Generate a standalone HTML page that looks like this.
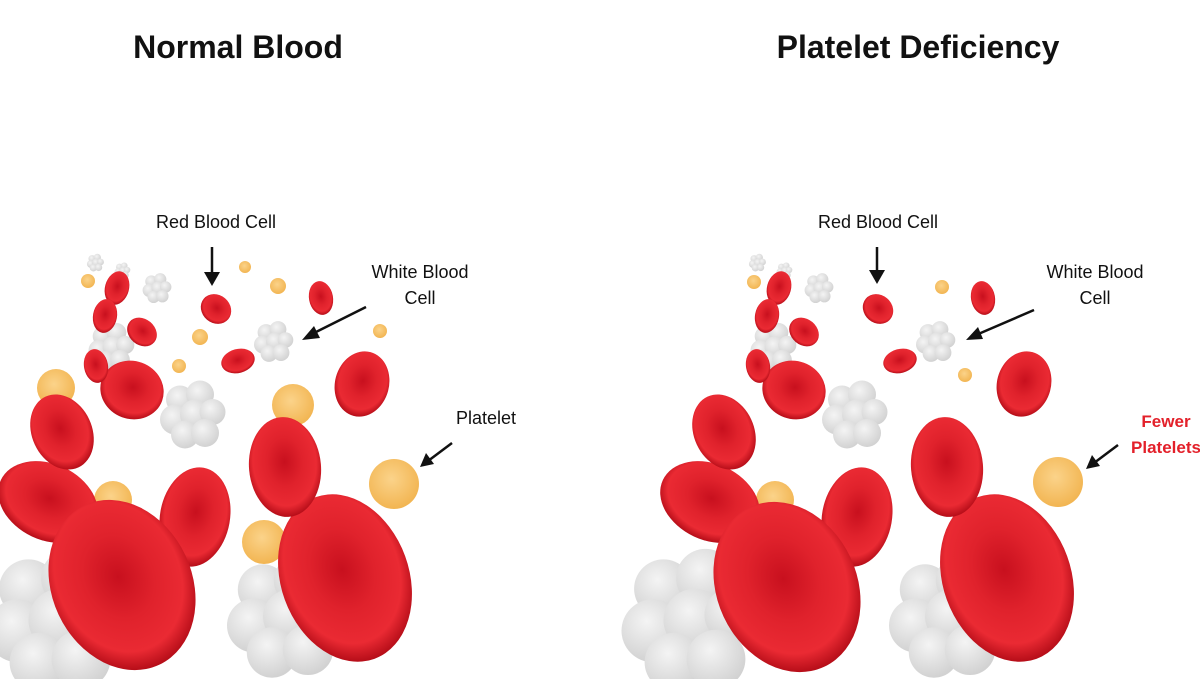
<!DOCTYPE html>
<html><head><meta charset="utf-8"><style>
html,body{margin:0;padding:0;background:#fff;width:1200px;height:679px;overflow:hidden}
svg{display:block}
text{font-family:"Liberation Sans",sans-serif}
</style></head><body>
<svg width="1200" height="679" viewBox="0 0 1200 679" xmlns="http://www.w3.org/2000/svg">
<defs>
<radialGradient id="rbc" cx="50%" cy="45%" r="55%">
<stop offset="0" stop-color="#c8101e"/><stop offset="0.45" stop-color="#e0222c"/><stop offset="0.8" stop-color="#ea2a33"/><stop offset="1" stop-color="#b50d18"/>
</radialGradient>
<radialGradient id="wbc" cx="40%" cy="35%" r="65%">
<stop offset="0" stop-color="#f4f4f4"/><stop offset="1" stop-color="#d2d2d2"/>
</radialGradient>
<radialGradient id="plt" cx="45%" cy="40%" r="60%">
<stop offset="0" stop-color="#fbd38a"/><stop offset="1" stop-color="#f2b552"/>
</radialGradient>
<g id="bigw">
<circle cx="-30" cy="-25" r="28" fill="url(#wbc)"/><circle cx="10" cy="-35" r="28" fill="url(#wbc)"/>
<circle cx="-40" cy="15" r="30" fill="url(#wbc)"/><circle cx="0" cy="5" r="30" fill="url(#wbc)"/>
<circle cx="35" cy="0" r="26" fill="url(#wbc)"/><circle cx="-20" cy="45" r="28" fill="url(#wbc)"/>
<circle cx="20" cy="42" r="28" fill="url(#wbc)"/>
</g>
<g id="cells">
<use href="#bigw" transform="translate(290,612) scale(0.9)"/>
<use href="#bigw" transform="translate(195,412) scale(0.5)"/>
<use href="#bigw" transform="translate(275,340) scale(0.3)"/>
<use href="#bigw" transform="translate(113,345) scale(0.35)"/>
<use href="#bigw" transform="translate(158,287) scale(0.22)"/>
<use href="#bigw" transform="translate(96,262) scale(0.13)"/>
<use href="#bigw" transform="translate(123,270) scale(0.12)"/>
<ellipse cx="345" cy="578" rx="64" ry="86" transform="rotate(-20 345 578)" fill="url(#rbc)"/>
<ellipse cx="48" cy="502" rx="52" ry="38" transform="rotate(25 48 502)" fill="url(#rbc)"/>
<ellipse cx="195" cy="517" rx="35" ry="50" transform="rotate(10 195 517)" fill="url(#rbc)"/>
<ellipse cx="285" cy="467" rx="36" ry="50" transform="rotate(-5 285 467)" fill="url(#rbc)"/>
<ellipse cx="62" cy="432" rx="30" ry="39" transform="rotate(-25 62 432)" fill="url(#rbc)"/>
<ellipse cx="132" cy="390" rx="32" ry="29" transform="rotate(20 132 390)" fill="url(#rbc)"/>
<ellipse cx="362" cy="384" rx="27" ry="33" transform="rotate(15 362 384)" fill="url(#rbc)"/>
<ellipse cx="117" cy="288" rx="12" ry="17" transform="rotate(15 117 288)" fill="url(#rbc)"/>
<ellipse cx="105" cy="316" rx="12" ry="17" transform="rotate(10 105 316)" fill="url(#rbc)"/>
<ellipse cx="142" cy="332" rx="16" ry="13" transform="rotate(40 142 332)" fill="url(#rbc)"/>
<ellipse cx="96" cy="366" rx="12" ry="17" transform="rotate(-10 96 366)" fill="url(#rbc)"/>
<ellipse cx="216" cy="309" rx="16" ry="14" transform="rotate(40 216 309)" fill="url(#rbc)"/>
<ellipse cx="238" cy="361" rx="17" ry="12" transform="rotate(-15 238 361)" fill="url(#rbc)"/>
<ellipse cx="321" cy="298" rx="12" ry="17" transform="rotate(-10 321 298)" fill="url(#rbc)"/>
</g>
</defs>
<text x="238" y="58" font-size="32" font-weight="bold" text-anchor="middle" fill="#111">Normal Blood</text>
<text x="918" y="58" font-size="32" font-weight="bold" text-anchor="middle" fill="#111">Platelet Deficiency</text>

<g fill="url(#plt)">
<circle cx="56" cy="388" r="19"/><circle cx="293" cy="405" r="21"/><circle cx="394" cy="484" r="25"/>
<circle cx="113" cy="500" r="19"/><circle cx="264" cy="542" r="22"/><circle cx="88" cy="281" r="7"/>
<circle cx="245" cy="267" r="6"/><circle cx="278" cy="286" r="8"/><circle cx="200" cy="337" r="8"/>
<circle cx="179" cy="366" r="7"/><circle cx="380" cy="331" r="7"/>
</g>
<use href="#bigw" transform="translate(60,615) scale(1.05)"/>
<use href="#cells"/>
<ellipse cx="122" cy="585" rx="70" ry="88" transform="rotate(-25 122 585)" fill="url(#rbc)"/>

<g fill="url(#plt)">
<circle cx="1058" cy="482" r="25"/><circle cx="775" cy="500" r="19"/><circle cx="942" cy="287" r="7"/>
<circle cx="965" cy="375" r="7"/><circle cx="754" cy="282" r="7"/>
</g>
<use href="#bigw" transform="translate(695,615) scale(1.05)"/>
<use href="#cells" x="662"/>
<ellipse cx="787" cy="587" rx="70" ry="88" transform="rotate(-25 787 587)" fill="url(#rbc)"/>

<g font-size="18" fill="#111" text-anchor="middle">
<text x="216" y="228">Red Blood Cell</text>
<text x="420" y="278">White Blood</text><text x="420" y="304">Cell</text>
<text x="486" y="424">Platelet</text>
<text x="878" y="228">Red Blood Cell</text>
<text x="1095" y="278">White Blood</text><text x="1095" y="304">Cell</text>
</g>
<g font-size="17" font-weight="bold" fill="#e3202a" text-anchor="middle">
<text x="1166" y="427">Fewer</text><text x="1166" y="453">Platelets</text>
</g>
<g stroke="#111" stroke-width="2.5" fill="#111">
<line x1="212" y1="247" x2="212" y2="275"/><polygon points="204,272 220,272 212,286" stroke="none"/>
<line x1="366" y1="307" x2="312" y2="334"/><polygon points="302,340 314,326 320,338" stroke="none"/>
<line x1="452" y1="443" x2="428" y2="461"/><polygon points="420,467 426,453 434,464" stroke="none"/>
<line x1="877" y1="247" x2="877" y2="273"/><polygon points="869,270 885,270 877,284" stroke="none"/>
<line x1="1034" y1="310" x2="976" y2="335"/><polygon points="966,340 978,327 983,339" stroke="none"/>
<line x1="1118" y1="445" x2="1094" y2="463"/><polygon points="1086,469 1092,455 1100,466" stroke="none"/>
</g>
</svg>
</body></html>
